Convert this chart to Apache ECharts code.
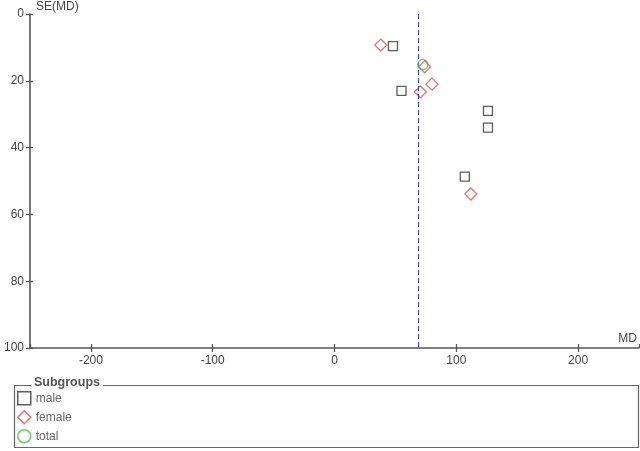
<!DOCTYPE html>
<html>
<head>
<meta charset="utf-8">
<script src="https://cdn.jsdelivr.net/npm/echarts@6/dist/echarts.min.js"></script>
<style>html,body{margin:0;padding:0;background:#fff}#c{width:640px;height:451px}</style>
</head>
<body>
<div id="c"></div>
<script>
const xTickLabels = [-200, -100, 0, 100, 200];
const yTickLabels = [0, 20, 40, 60, 80, 100];
const maleMD = [48, 55, 126, 126, 107];
const maleSE = [9.6, 23.0, 29.0, 34.0, 48.7];
const femaleMD = [38, 74, 80, 70.5, 112];
const femaleSE = [9.3, 15.8, 21.0, 23.3, 53.9];
const totalMD = [72.5];
const totalSE = [15.1];
const pooledMD = 69;
const legendTitle = 'Subgroups';

const zip = (a, b) => a.map((v, i) => [v, b[i]]);
const font = 'Liberation Sans';
const axisCol = '#555';

const chart = echarts.init(document.getElementById('c'), null, {renderer: 'canvas'});
const baseX = {
  type: 'value', min: -250, max: 250, splitNumber: 5,
  splitLine: {show: false}
};
const baseY = {
  type: 'value', min: 0, max: 100, interval: 20, inverse: true,
  splitLine: {show: false}
};
chart.setOption({
  animation: false,
  textStyle: {fontFamily: font},
  grid: {left: 30, right: 0, top: 14, bottom: 103},
  xAxis: [
    Object.assign({}, baseX, {
      position: 'bottom',
      name: 'MD', nameLocation: 'end', nameGap: 0,
      nameTextStyle: {color: '#444', fontSize: 12, align: 'right', verticalAlign: 'bottom', padding: [0, 2, 3, 0]},
      axisLine: {onZero: false, lineStyle: {color: axisCol, width: 1.6}},
      axisTick: {show: true, length: 4, lineStyle: {color: axisCol, width: 1.3}},
      axisLabel: {color: '#444', fontSize: 12, margin: 7, showMinLabel: false, showMaxLabel: false,
        formatter: v => xTickLabels.includes(v) ? String(v) : ''}
    }),
    Object.assign({}, baseX, {
      position: 'top', offset: -334,
      axisLine: {show: false, onZero: false},
      axisTick: {show: true, inside: false, length: 4, lineStyle: {color: axisCol, width: 1.3}},
      axisLabel: {show: false}
    })
  ],
  yAxis: [
    Object.assign({}, baseY, {
      position: 'left',
      name: 'SE(MD)', nameLocation: 'start', nameGap: 7,
      nameTextStyle: {color: '#444', fontSize: 12, align: 'left', verticalAlign: 'middle', padding: [0, 0, 0, 6]},
      axisLine: {show: true, onZero: false, lineStyle: {color: axisCol, width: 1.6}},
      axisTick: {show: true, length: 4, lineStyle: {color: axisCol, width: 1.3}},
      axisLabel: {color: '#444', fontSize: 12, margin: 6,
        formatter: v => yTickLabels.includes(v) ? String(v) : ''}
    }),
    Object.assign({}, baseY, {
      position: 'right', offset: -610,
      axisLine: {show: false, onZero: false},
      axisTick: {show: true, inside: false, length: 4, lineStyle: {color: axisCol, width: 1.3}},
      axisLabel: {show: false}
    })
  ],
  legend: {
    orient: 'vertical', left: 17, top: 391, padding: 0,
    itemWidth: 13, itemHeight: 13, itemGap: 4.5,
    textStyle: {color: '#666', fontSize: 12, fontFamily: font},
    data: [
      {name: 'male', icon: 'rect', itemStyle: {color: '#fff', borderColor: '#333', borderWidth: 1.5}},
      {name: 'female', icon: 'diamond', itemStyle: {color: '#fff', borderColor: '#d9534f', borderWidth: 1.5}},
      {name: 'total', icon: 'circle', itemStyle: {color: '#fff', borderColor: '#4cbb4c', borderWidth: 1.5}}
    ]
  },
  graphic: [
    {type: 'rect', left: 12, top: 383, shape: {width: 624, height: 62},
      style: {fill: 'none', stroke: '#666', lineWidth: 1.2}, z: 1},
    {type: 'text', left: 31, top: 376, z: 2,
      style: {text: legendTitle, fill: '#555', font: 'bold 12.5px "Liberation Sans"', backgroundColor: '#fff', padding: [0, 3]}}
  ],
  series: [
    {
      name: 'pooled', type: 'scatter', data: [], silent: true,
      markLine: {symbol: 'none', silent: true, label: {show: false},
        lineStyle: {type: [5, 3], color: '#3040c0', width: 1},
        data: [{xAxis: pooledMD}]}
    },
    {name: 'male', type: 'scatter', symbol: 'rect', symbolSize: 9, z: 3,
      itemStyle: {color: '#fff', borderColor: '#333', borderWidth: 1.3},
      data: zip(maleMD, maleSE)},
    {name: 'female', type: 'scatter', symbol: 'diamond', symbolSize: 12, z: 4,
      itemStyle: {color: 'rgba(255,255,255,0)', borderColor: '#d9534f', borderWidth: 1.3},
      data: zip(femaleMD, femaleSE)},
    {name: 'total', type: 'scatter', symbol: 'circle', symbolSize: 10, z: 5,
      itemStyle: {color: 'rgba(255,255,255,0)', borderColor: '#4cbb4c', borderWidth: 1.3},
      data: zip(totalMD, totalSE)}
  ]
});
</script>
</body>
</html>
